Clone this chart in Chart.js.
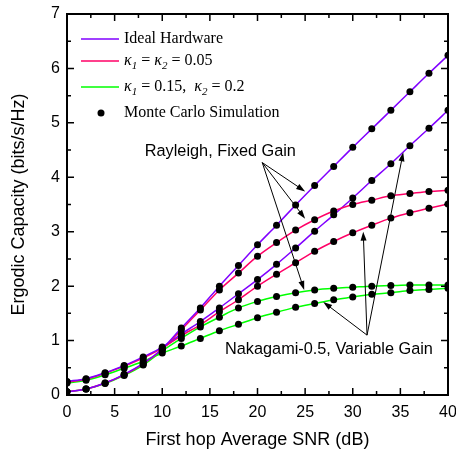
<!DOCTYPE html>
<html>
<head>
<meta charset="utf-8">
<script src="https://cdn.jsdelivr.net/npm/chart.js@4.4.0/dist/chart.umd.min.js"></script>
<style>
  html, body { margin: 0; padding: 0; background: #fff; }
</style>
</head>
<body>
<canvas id="chart" width="456" height="455"></canvas>
<script>
// SNR grid (dB) and ergodic capacity (bits/s/Hz)
const snr = [0, 2, 4, 6, 8, 10, 12, 14, 16, 18, 20, 22, 24, 26, 28, 30, 32, 34, 36, 38, 40];

// Rayleigh, fixed gain
const rayIdeal = [0.06, 0.11, 0.22, 0.38, 0.58, 0.85, 1.23, 1.60, 2.00, 2.38, 2.76, 3.12, 3.49, 3.85, 4.20, 4.55, 4.89, 5.23, 5.57, 5.91, 6.24];
const rayK005  = [0.06, 0.11, 0.22, 0.37, 0.57, 0.84, 1.20, 1.56, 1.93, 2.24, 2.55, 2.80, 3.03, 3.22, 3.38, 3.50, 3.58, 3.66, 3.70, 3.74, 3.76];
const rayK015  = [0.06, 0.11, 0.21, 0.36, 0.55, 0.81, 1.04, 1.25, 1.43, 1.60, 1.72, 1.81, 1.88, 1.93, 1.96, 1.98, 2.00, 2.01, 2.02, 2.02, 2.02];

// Nakagami-0.5, variable gain
const nakIdeal = [0.25, 0.30, 0.41, 0.54, 0.70, 0.88, 1.12, 1.35, 1.60, 1.86, 2.12, 2.40, 2.70, 3.01, 3.31, 3.62, 3.94, 4.25, 4.58, 4.90, 5.23];
const nakK005  = [0.24, 0.29, 0.40, 0.53, 0.68, 0.86, 1.09, 1.29, 1.53, 1.75, 2.00, 2.22, 2.43, 2.64, 2.82, 2.98, 3.12, 3.25, 3.35, 3.43, 3.51];
const nakK015  = [0.22, 0.27, 0.37, 0.49, 0.62, 0.77, 0.90, 1.04, 1.18, 1.30, 1.42, 1.52, 1.61, 1.68, 1.75, 1.80, 1.85, 1.88, 1.92, 1.94, 1.96];

const xTicks = [0, 5, 10, 15, 20, 25, 30, 35, 40];
const yTicks = [0, 1, 2, 3, 4, 5, 6, 7];

const PURPLE = '#8000ff';
const RED = '#ff0066';
const GREEN = '#00ff00';
const SANS = '"Liberation Sans", Arial, sans-serif';
const SERIF = '"Liberation Serif", "Times New Roman", serif';

const curves = [
  { data: rayIdeal, color: PURPLE },
  { data: rayK005, color: RED },
  { data: rayK015, color: GREEN },
  { data: nakIdeal, color: PURPLE },
  { data: nakK005, color: RED },
  { data: nakK015, color: GREEN },
];

const pts = (arr) => snr.map((s, i) => ({ x: s, y: arr[i] }));

const datasets = [];
curves.forEach(c => {
  datasets.push({
    data: pts(c.data), borderColor: c.color, borderWidth: 1.5,
    pointRadius: 0, cubicInterpolationMode: 'monotone', order: 2,
  });
});
curves.forEach(c => {
  datasets.push({
    data: pts(c.data), showLine: false, pointRadius: 3.5,
    pointBackgroundColor: '#000', pointBorderColor: '#000', pointBorderWidth: 0, order: 1,
  });
});

// ticks pointing inward + closed frame
const frame = {
  id: 'frame',
  afterDatasetsDraw(chart) {
    const { ctx, chartArea: a, scales: { x, y } } = chart;
    ctx.save();
    ctx.strokeStyle = '#000';
    ctx.lineWidth = 1.5;
    ctx.beginPath();
    for (let v = 0; v <= 40; v += 2.5) {
      const px = x.getPixelForValue(v);
      const len = v % 5 === 0 ? 7 : 4;
      ctx.moveTo(px, a.bottom); ctx.lineTo(px, a.bottom - len);
      ctx.moveTo(px, a.top); ctx.lineTo(px, a.top + len);
    }
    for (let v = 0; v <= 7; v += 0.5) {
      const py = y.getPixelForValue(v);
      const len = v % 1 === 0 ? 7 : 4;
      ctx.moveTo(a.left, py); ctx.lineTo(a.left + len, py);
      ctx.moveTo(a.right, py); ctx.lineTo(a.right - len, py);
    }
    ctx.stroke();
    ctx.lineWidth = 2;
    ctx.strokeRect(a.left, a.top, a.width, a.height);
    ctx.restore();
  }
};

function drawRuns(ctx, x, y, runs) {
  runs.forEach(r => {
    ctx.font = r.font;
    ctx.fillText(r.t, x, y + (r.dy || 0));
    x += ctx.measureText(r.t).width;
  });
}

const legend = {
  id: 'customLegend',
  afterDraw(chart) {
    const { ctx } = chart;
    const it = 'italic 16px ' + SERIF, sub = 'italic 11px ' + SERIF, rm = '16px ' + SERIF;
    const rows = [
      { color: PURPLE, y: 39, runs: [{ t: 'Ideal Hardware', font: rm }] },
      { color: RED, y: 61, runs: [
        { t: 'κ', font: it }, { t: '1', font: sub, dy: 5 }, { t: ' = ', font: rm },
        { t: 'κ', font: it }, { t: '2', font: sub, dy: 5 }, { t: ' = 0.05', font: rm }] },
      { color: GREEN, y: 87, runs: [
        { t: 'κ', font: it }, { t: '1', font: sub, dy: 5 }, { t: ' = 0.15,  ', font: rm },
        { t: 'κ', font: it }, { t: '2', font: sub, dy: 5 }, { t: ' = 0.2', font: rm }] },
      { dot: true, y: 113, runs: [{ t: 'Monte Carlo Simulation', font: rm }] },
    ];
    ctx.save();
    ctx.textBaseline = 'middle';
    ctx.fillStyle = '#000';
    rows.forEach(r => {
      if (r.dot) {
        ctx.beginPath(); ctx.arc(101, r.y, 3.5, 0, Math.PI * 2); ctx.fill();
      } else {
        ctx.strokeStyle = r.color; ctx.lineWidth = 1.5;
        ctx.beginPath(); ctx.moveTo(81, r.y); ctx.lineTo(119, r.y); ctx.stroke();
      }
      drawRuns(ctx, 124, r.y, r.runs);
    });
    ctx.restore();
  }
};

// text labels with arrows, positions in data units
const notes = [
  { text: 'Rayleigh, Fixed Gain', at: [16.1, 4.48], from: [20.5, 4.27],
    tips: [[25.0, 3.74], [25.0, 3.24], [24.9, 1.93]] },
  { text: 'Nakagami-0.5, Variable Gain', at: [27.5, 0.83], from: [31.5, 1.10],
    tips: [[26.9, 1.71], [31.1, 3.00], [35.3, 4.46]] },
];

function arrow(ctx, x0, y0, x1, y1) {
  const ang = Math.atan2(y1 - y0, x1 - x0), L = 9, W = 3;
  ctx.beginPath(); ctx.moveTo(x0, y0); ctx.lineTo(x1 - Math.cos(ang) * L * 0.8, y1 - Math.sin(ang) * L * 0.8); ctx.stroke();
  ctx.beginPath();
  ctx.moveTo(x1, y1);
  ctx.lineTo(x1 - L * Math.cos(ang) + W * Math.sin(ang), y1 - L * Math.sin(ang) - W * Math.cos(ang));
  ctx.lineTo(x1 - L * Math.cos(ang) - W * Math.sin(ang), y1 - L * Math.sin(ang) + W * Math.cos(ang));
  ctx.closePath(); ctx.fill();
}

const annotate = {
  id: 'annotate',
  afterDraw(chart) {
    const { ctx, scales: { x, y } } = chart;
    ctx.save();
    ctx.fillStyle = '#000'; ctx.strokeStyle = '#000'; ctx.lineWidth = 1;
    ctx.font = '16.3px ' + SANS;
    ctx.textAlign = 'center'; ctx.textBaseline = 'middle';
    notes.forEach(n => {
      ctx.fillText(n.text, x.getPixelForValue(n.at[0]), y.getPixelForValue(n.at[1]));
      const fx = x.getPixelForValue(n.from[0]), fy = y.getPixelForValue(n.from[1]);
      n.tips.forEach(t => arrow(ctx, fx, fy, x.getPixelForValue(t[0]), y.getPixelForValue(t[1])));
    });
    ctx.restore();
  }
};

new Chart(document.getElementById('chart'), {
  type: 'line',
  data: { datasets },
  plugins: [frame, legend, annotate],
  options: {
    responsive: false,
    animation: false,
    devicePixelRatio: 1,
    layout: { padding: { top: 14, right: 8, left: 0, bottom: 0 } },
    plugins: { legend: { display: false }, tooltip: { enabled: false } },
    scales: {
      x: {
        type: 'linear', min: 0, max: 40,
        grid: { display: false, drawTicks: false },
        border: { display: false },
        afterBuildTicks: (s) => { s.ticks = xTicks.map(v => ({ value: v })); },
        afterFit: (s) => { s.height = 60; s.paddingLeft = 0; s.paddingRight = 0; },
        ticks: { color: '#000', font: { family: SANS, size: 16 }, padding: 8, maxRotation: 0 },
        title: { display: true, text: 'First hop Average SNR (dB)', color: '#000',
                 font: { family: SANS, size: 18 }, padding: { top: 4, bottom: 4 } },
      },
      y: {
        type: 'linear', min: 0, max: 7,
        grid: { display: false, drawTicks: false },
        border: { display: false },
        afterBuildTicks: (s) => { s.ticks = yTicks.map(v => ({ value: v })); },
        afterFit: (s) => { s.width = 67; s.paddingTop = 0; s.paddingBottom = 0; },
        ticks: { color: '#000', font: { family: SANS, size: 16 }, padding: 7 },
        title: { display: true, text: 'Ergodic Capacity (bits/s/Hz)', color: '#000',
                 font: { family: SANS, size: 18 }, padding: { top: 8, bottom: 4 } },
      },
    },
  },
});
</script>
</body>
</html>
